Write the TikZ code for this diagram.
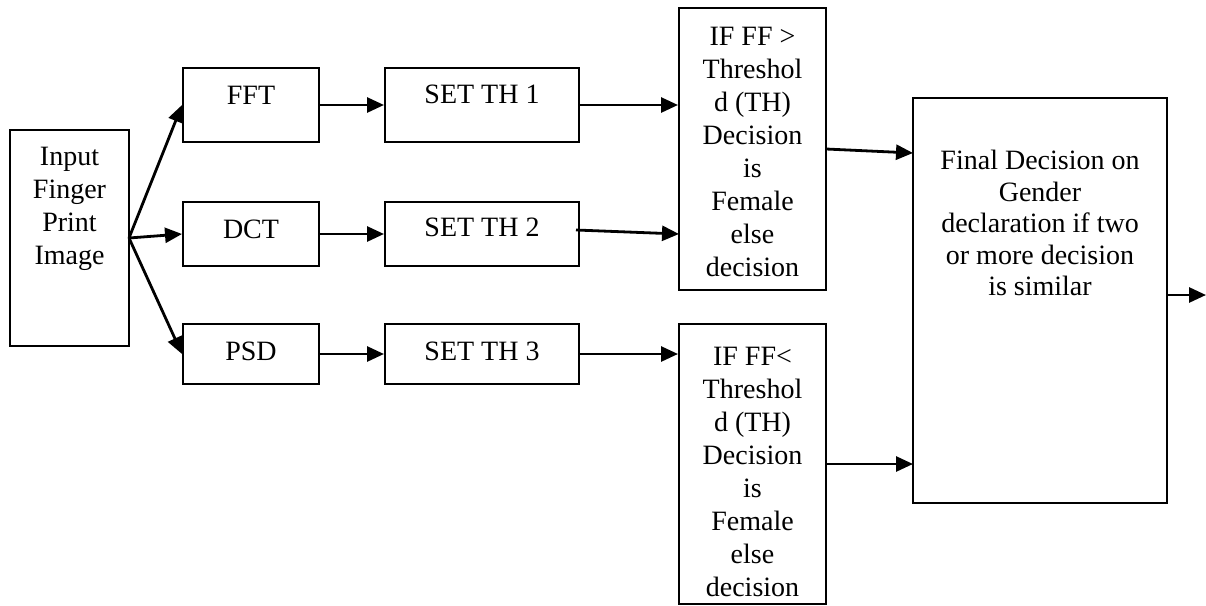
\documentclass[tikz,border=0pt]{standalone}
\usepackage{fontspec}
\setmainfont{Liberation Serif}
\usetikzlibrary{arrows.meta}
\tikzset{
  box/.style={draw=black, line width=2pt, fill=white, inner sep=0pt, rectangle},
  txt/.style={inner sep=0pt, anchor=north, align=center, font=\fontsize{28}{33}\selectfont},
  arr/.style={line width=2.8pt, -{Triangle[length=17pt,width=15pt]}}
}
\newcommand{\bx}[5]{\node[box, minimum width=#3pt-#1pt, minimum height=#4pt-#2pt] (#5) at ({(#1+#3)/2},{(#2+#4)/2}) {};}
\begin{document}
\begin{tikzpicture}[x=1pt,y=-1pt]
\useasboundingbox (0,0) rectangle (1206,605);
% boxes
\bx{10}{130}{129}{346}{in}
\bx{183}{68}{319}{142}{fft}
\bx{183}{202}{319}{266}{dct}
\bx{183}{324}{319}{384}{psd}
\bx{385}{68}{579}{142}{set1}
\bx{385}{202}{579}{266}{set2}
\bx{385}{324}{579}{384}{set3}
\bx{679}{8}{826}{290}{dec1}
\bx{679}{324}{826}{604}{dec2}
\bx{913}{98}{1167}{503}{fin}
% texts
\node[txt] (tin) at (69.5,147) {Input\\Finger\\Print\\Image};
\node[txt] (tfft) at (251,86) {FFT};
\node[txt] (tdct) at (251,220) {DCT};
\node[txt] (tpsd) at (251,342) {PSD};
\node[txt] (tset1) at (482,85) {SET TH 1};
\node[txt] (tset2) at (482,218) {SET TH 2};
\node[txt] (tset3) at (482,342) {SET TH 3};
\node[txt] (tdec1) at (752.5,27) {IF FF >\\Threshol\\d (TH)\\Decision\\is\\Female\\else\\decision};
\node[txt] (tdec2) at (752.5,347) {IF FF<\\Threshol\\d (TH)\\Decision\\is\\Female\\else\\decision};
\node[txt, font=\fontsize{28}{31.5}\selectfont] (tfin) at (1040,150) {Final Decision on\\Gender\\declaration if two\\or more decision\\is similar};
% connector coordinates
\coordinate (inout) at (129,238);
\coordinate (s2out) at (576,230);
\coordinate (d2in) at (679,234);
\coordinate (d1out) at (826,149);
\coordinate (f1in) at (913,153);
\coordinate (d2out) at (826,464);
\coordinate (f2in) at (913,464);
\coordinate (fout) at (1167,295);
\coordinate (end) at (1206,295);
% connectors
\draw[arr] (inout) -- (fft.west);
\draw[arr] (inout) -- (dct.west);
\draw[arr] (inout) -- (psd.west);
\draw[arr] (fft.east) -- (set1.west);
\draw[arr] (dct.east) -- (set2.west);
\draw[arr] (psd.east) -- (set3.west);
\draw[arr] (set1.east) -- (dec1.west |- set1.east);
\draw[arr] (s2out) -- (d2in);
\draw[arr] (set3.east) -- (dec2.west |- set3.east);
\draw[arr] (d1out) -- (f1in);
\draw[arr] (d2out) -- (f2in);
\draw[arr] (fout) -- (end);
\end{tikzpicture}
\end{document}
